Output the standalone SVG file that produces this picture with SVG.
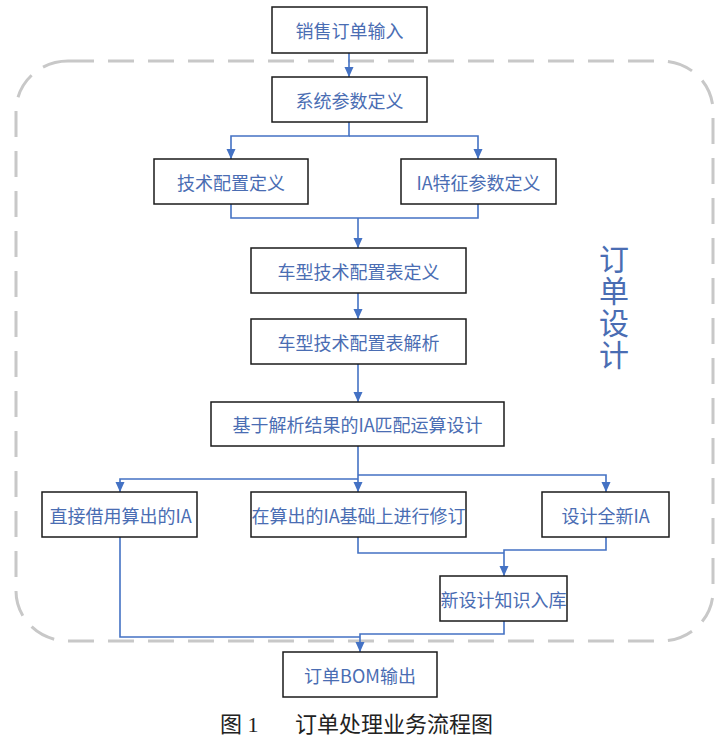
<svg xmlns="http://www.w3.org/2000/svg" width="727" height="741" viewBox="0 0 727 741">
<defs>
<style>
.box{fill:#fff;stroke:#1a1a1a;stroke-width:1.5}
.lbl{font-family:"Noto Sans CJK SC","Liberation Sans",sans-serif;font-size:18px;fill:#4a6db3;text-anchor:middle;dominant-baseline:central}
.con{fill:none;stroke:#4472c4;stroke-width:1.6}
.big{font-family:"Noto Sans CJK SC","Liberation Sans",sans-serif;font-size:30px;fill:#4a6db3;writing-mode:vertical-rl;letter-spacing:2px}
.cap{font-family:"Liberation Serif","Noto Sans CJK SC",serif;font-size:22px;fill:#222;dominant-baseline:central}
</style>
<marker id="ah" markerUnits="userSpaceOnUse" markerWidth="10" markerHeight="10" viewBox="0 0 10 10" refX="10" refY="5" orient="auto">
<path d="M0,0.5 L10,5 L0,9.5 Z" fill="#4472c4"/>
</marker>
</defs>
<rect width="727" height="741" fill="#fff"/>
<rect id="boundary" x="16" y="61" width="697" height="580" rx="52" ry="50" fill="none" stroke="#c8c8c8" stroke-width="3" stroke-dasharray="26 14"/>
<g id="connectors" class="con">
<path class="con" d="M349,53 V77" marker-end="url(#ah)"/>
<path class="con" d="M349,122 V136 H231 V159" marker-end="url(#ah)"/>
<path class="con" d="M349,136 H478 V159" marker-end="url(#ah)"/>
<path class="con" d="M231,204 V218 H478 V204"/>
<path class="con" d="M358,218 V248" marker-end="url(#ah)"/>
<path class="con" d="M358,293 V319" marker-end="url(#ah)"/>
<path class="con" d="M358,364 V402" marker-end="url(#ah)"/>
<path class="con" d="M358,446 V492" marker-end="url(#ah)"/>
<path class="con" d="M358,479 H120 V492" marker-end="url(#ah)"/>
<path class="con" d="M358,475 H606 V492" marker-end="url(#ah)"/>
<path class="con" d="M358,537 V553 H504"/>
<path class="con" d="M606,537 V550 H504 V576" marker-end="url(#ah)"/>
<path class="con" d="M120,537 V637 H360"/>
<path class="con" d="M504,621 V634 H360 V652" marker-end="url(#ah)"/>
</g>
<g id="n1"><rect class="box" x="272" y="7" width="155" height="46"/><text class="lbl" x="349.5" y="30">销售订单输入</text></g>
<g id="n2"><rect class="box" x="272" y="77" width="155" height="45"/><text class="lbl" x="349.5" y="99.5">系统参数定义</text></g>
<g id="n3"><rect class="box" x="154" y="159" width="154" height="45"/><text class="lbl" x="231" y="181.5">技术配置定义</text></g>
<g id="n4"><rect class="box" x="401" y="159" width="155" height="45"/><text class="lbl" x="478.5" y="181.5">IA特征参数定义</text></g>
<g id="n5"><rect class="box" x="251" y="248" width="215" height="45"/><text class="lbl" x="358.5" y="270.5">车型技术配置表定义</text></g>
<g id="n6"><rect class="box" x="251" y="319" width="215" height="45"/><text class="lbl" x="358.5" y="341.5">车型技术配置表解析</text></g>
<g id="n7"><rect class="box" x="211" y="402" width="293" height="44"/><text class="lbl" x="357.5" y="424">基于解析结果的IA匹配运算设计</text></g>
<g id="n8"><rect class="box" x="42" y="492" width="155" height="45"/><text class="lbl" x="120.5" y="514.5">直接借用算出的IA</text></g>
<g id="n9"><rect class="box" x="251" y="492" width="215" height="45"/><text class="lbl" x="358.5" y="514.5">在算出的IA基础上进行修订</text></g>
<g id="n10"><rect class="box" x="542" y="492" width="127" height="45"/><text class="lbl" x="605.5" y="514.5">设计全新IA</text></g>
<g id="n11"><rect class="box" x="440" y="576" width="127" height="45"/><text class="lbl" x="503.5" y="598.5">新设计知识入库</text></g>
<g id="n12"><rect class="box" x="283" y="652" width="154" height="45"/><text class="lbl" x="360" y="674.5">订单BOM输出</text></g>
<text id="group-label" class="big" x="614" y="244">订单设计</text>
<text class="cap" y="724"><tspan x="220">图 1</tspan><tspan x="295">订单处理业务流程图</tspan></text>
</svg>
